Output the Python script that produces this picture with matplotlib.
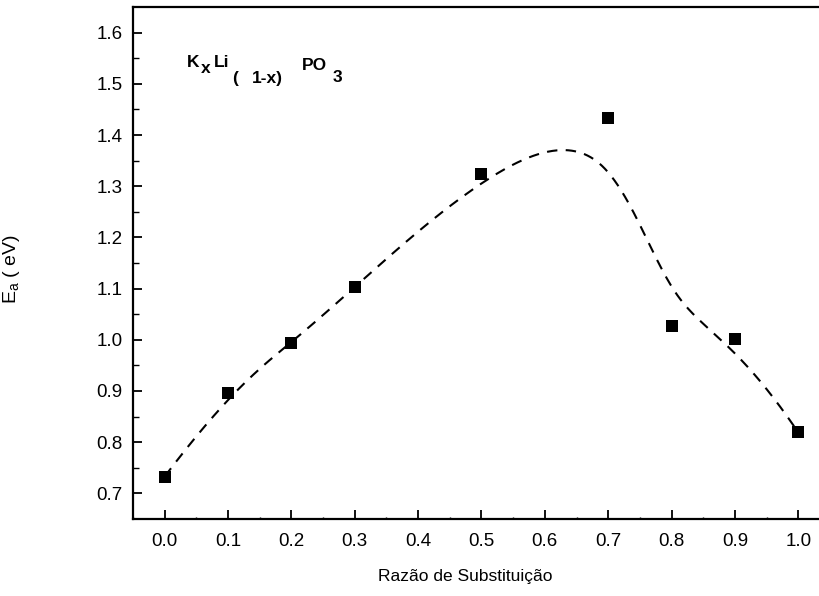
import numpy as np
import matplotlib
matplotlib.use("Agg")
import matplotlib.pyplot as plt

# ---- data ----
x_ratio = [0.0, 0.1, 0.2, 0.3, 0.5, 0.7, 0.8, 0.9, 1.0]
ea_ev = [0.733, 0.896, 0.993, 1.103, 1.324, 1.433, 1.027, 1.002, 0.819]
x_ticks = [0.0, 0.1, 0.2, 0.3, 0.4, 0.5, 0.6, 0.7, 0.8, 0.9, 1.0]
y_ticks = [0.7, 0.8, 0.9, 1.0, 1.1, 1.2, 1.3, 1.4, 1.5, 1.6]

plt.rcParams['font.family'] = ['Liberation Sans', 'DejaVu Sans']
plt.rcParams['mathtext.fontset'] = 'custom'
plt.rcParams['mathtext.rm'] = 'Liberation Sans'
plt.rcParams['mathtext.bf'] = 'Liberation Sans:bold'


def bspline_curve(px, py, k=3, n=600):
    """Clamped uniform cubic B-spline using the data points as control points."""
    P = np.column_stack([px, py])
    m = len(P)
    knots = np.concatenate([np.zeros(k), np.linspace(0, 1, m - k + 1), np.ones(k)])
    t = np.linspace(0, 1, n)
    nk = len(knots)
    N = np.zeros((n, nk - 1))
    for i in range(nk - 1):
        N[:, i] = (t >= knots[i]) & (t < knots[i + 1])
    last = nk - k - 2
    N[t >= 1.0, :] = 0
    N[t >= 1.0, last] = 1
    for d in range(1, k + 1):
        Nn = np.zeros((n, nk - 1 - d))
        for i in range(nk - 1 - d):
            a = np.zeros(n)
            b = np.zeros(n)
            den1 = knots[i + d] - knots[i]
            den2 = knots[i + d + 1] - knots[i + 1]
            if den1 > 0:
                a = (t - knots[i]) / den1 * N[:, i]
            if den2 > 0:
                b = (knots[i + d + 1] - t) / den2 * N[:, i + 1]
            Nn[:, i] = a + b
        N = Nn
    C = N @ P
    return C[:, 0], C[:, 1]


cx, cy = bspline_curve(x_ratio, ea_ev)

fig = plt.figure(figsize=(8.2, 5.96), dpi=100)
W, H = 820, 596
left, right, top, bottom = 133, 830, 7, 519
ax = fig.add_axes([left / W, (H - bottom) / H, (right - left) / W, (bottom - top) / H])

ax.plot(cx, cy, color='black', lw=1.5, linestyle=(0, (5, 4)))
ax.plot(x_ratio, ea_ev, linestyle='none', marker='s', markersize=8,
        color='black', markeredgewidth=0)

ax.set_xlim(-0.05, 1.05)
ax.set_ylim(0.65, 1.65)
ax.set_xticks(x_ticks)
ax.set_yticks(y_ticks)
ax.set_xticklabels([f"{v:.1f}" for v in x_ticks])
ax.set_yticklabels([f"{v:.1f}" for v in y_ticks])
ax.set_xticks(np.arange(-0.05, 1.06, 0.1), minor=True)
ax.set_yticks(np.arange(0.75, 1.65, 0.1), minor=True)

ax.tick_params(which='major', direction='in', length=6.5, width=1.3,
               labelsize=13.5)
ax.tick_params(axis='x', which='major', pad=10)
ax.tick_params(axis='y', which='major', pad=7.5)
ax.tick_params(axis='x', which='minor', direction='in', length=1.5, width=1.0)
ax.tick_params(axis='y', which='minor', direction='in', length=4, width=1.0)
for s in ax.spines.values():
    s.set_linewidth(1.6)
ax.spines['right'].set_visible(False)

ax.set_xlabel('Razão de Substituição', fontsize=12.5)
ax.xaxis.set_label_coords((465 - left) / (right - left), -(569 - bottom) / (bottom - top))
ax.set_ylabel(r'E$_{\mathrm{a}}$ ( eV)', fontsize=14)
ax.yaxis.set_label_coords(-(133 - 22) / (right - left), (bottom - 269) / (bottom - top))

# formula label, pieces placed on their own baselines (pixel coords from top-left)
formula_pieces = [("K", 187, 67), ("x", 201, 73), ("Li", 214, 67), ("(", 232, 83),
                  ("1-x)", 252, 83), ("PO", 302, 70), ("3", 333, 82)]
for s, px, py in formula_pieces:
    fig.text(px / W, 1 - py / H, s, fontsize=12.5, fontweight='bold',
             ha='left', va='baseline')

fig.savefig('out.png', dpi=100)
